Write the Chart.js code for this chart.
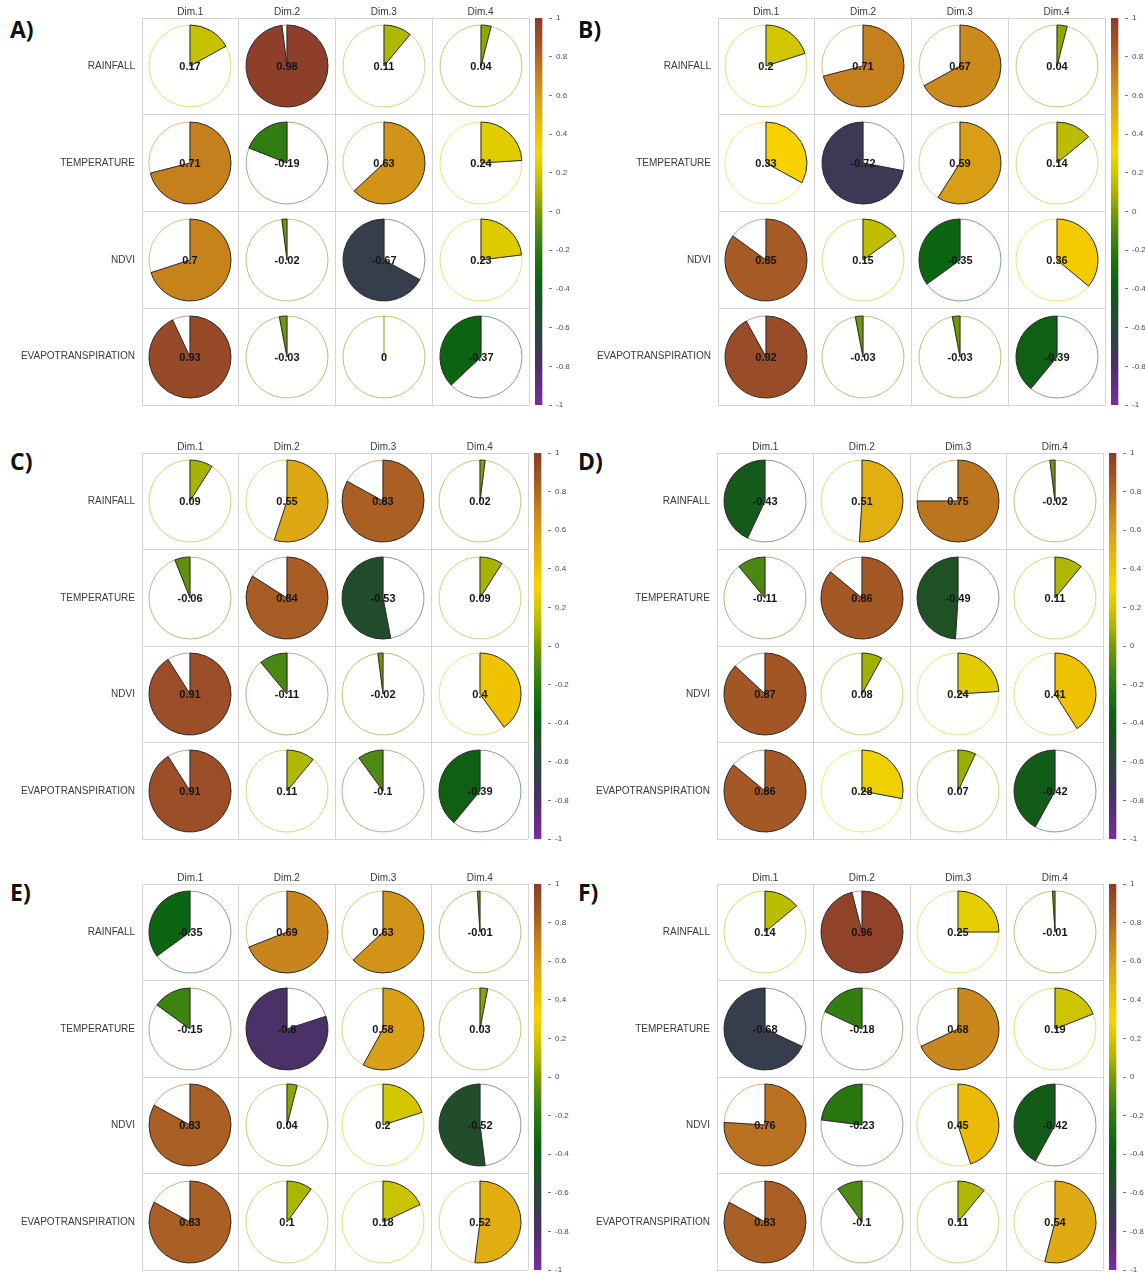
<!DOCTYPE html>
<html>
<head>
<meta charset="utf-8">
<title>Loadings of climate variables on the first four dimensions</title>
<script src="https://cdn.jsdelivr.net/npm/chart.js@4.4.1/dist/chart.umd.min.js"></script>
<style>
  html, body { margin: 0; padding: 0; background: #ffffff; }
  #page { position: relative; width: 1145px; height: 1272px; overflow: hidden; }
  #page canvas { position: absolute; }
  .panel-tag {
    position: absolute; margin: 0;
    font: bold 23px "Open Sans", "DejaVu Sans", sans-serif;
    line-height: 23px; color: #111111;
  }
</style>
</head>
<body>
<div id="page"></div>
<script>
// ---- data -------------------------------------------------------------
const dims = ['Dim.1', 'Dim.2', 'Dim.3', 'Dim.4'];
const variables = ['RAINFALL', 'TEMPERATURE', 'NDVI', 'EVAPOTRANSPIRATION'];
const panelTags = ['A)', 'B)', 'C)', 'D)', 'E)', 'F)'];

// rows follow `variables`, columns follow `dims`
const panelA = [
  [0.17, 0.98, 0.11, 0.04],
  [0.71, -0.19, 0.63, 0.24],
  [0.7, -0.02, -0.67, 0.23],
  [0.93, -0.03, 0, -0.37]
];
const panelB = [
  [0.2, 0.71, 0.67, 0.04],
  [0.33, -0.72, 0.59, 0.14],
  [0.85, 0.15, -0.35, 0.36],
  [0.92, -0.03, -0.03, -0.39]
];
const panelC = [
  [0.09, 0.55, 0.83, 0.02],
  [-0.06, 0.84, -0.53, 0.09],
  [0.91, -0.11, -0.02, 0.4],
  [0.91, 0.11, -0.1, -0.39]
];
const panelD = [
  [-0.43, 0.51, 0.75, -0.02],
  [-0.11, 0.86, -0.49, 0.11],
  [0.87, 0.08, 0.24, 0.41],
  [0.86, 0.28, 0.07, -0.42]
];
const panelE = [
  [-0.35, 0.69, 0.63, -0.01],
  [-0.15, -0.8, 0.58, 0.03],
  [0.83, 0.04, 0.2, -0.52],
  [0.83, 0.1, 0.18, 0.52]
];
const panelF = [
  [0.14, 0.96, 0.25, -0.01],
  [-0.68, -0.18, 0.68, 0.19],
  [0.76, -0.23, 0.45, -0.42],
  [0.83, -0.1, 0.11, 0.54]
];
const panelValues = [panelA, panelB, panelC, panelD, panelE, panelF];

// colour legend
const colorbarRange = [-1, 1];
const colorbarTicks = [-1, -0.8, -0.6, -0.4, -0.2, 0, 0.2, 0.4, 0.6, 0.8, 1];
const paletteStops = [
  [-1, '#7d2ba4'], [-0.8, '#4a3166'], [-0.66, '#333f48'], [-0.5, '#1f4f26'],
  [-0.36, '#0a6410'], [-0.2, '#2e7a0e'], [-0.1, '#4e8a14'], [0, '#7a9c00'],
  [0.1, '#abb600'], [0.2, '#d2c700'], [0.31, '#f9d500'], [0.42, '#edbf02'],
  [0.55, '#dea814'], [0.7, '#c7821c'], [0.85, '#a65a25'], [1, '#8a3b2b']
];

// ---- layout -----------------------------------------------------------
const LABEL_W = 142;   // room for the row names
const HEADER_H = 18;   // room for the column names
const PIE_R = 41;
const frames = [
  { left: 142, top: 18,  cell: 96.75 },
  { left: 718, top: 18,  cell: 96.75 },
  { left: 142, top: 453, cell: 96.5 },
  { left: 717, top: 453, cell: 96.5 },
  { left: 142, top: 884, cell: 96.5 },
  { left: 717, top: 884, cell: 96.5 }
];
const tagSpots = [[10, 18], [578, 18], [10, 450], [578, 450], [10, 881], [578, 881]];

const FONT = '"Liberation Sans", Arial, sans-serif';
Chart.defaults.font.family = FONT;
Chart.defaults.animation = false;

const page = document.getElementById('page');

function hexRgb(h) {
  return [1, 3, 5].map(i => parseInt(h.slice(i, i + 2), 16));
}
function mixColor(v, alpha) {
  let i = 0;
  while (i < paletteStops.length - 2 && v > paletteStops[i + 1][0]) i++;
  const [v0, c0] = paletteStops[i];
  const [v1, c1] = paletteStops[i + 1];
  const t = Math.min(1, Math.max(0, (v - v0) / (v1 - v0)));
  const a = hexRgb(c0), b = hexRgb(c1);
  const m = a.map((x, k) => Math.round(x + (b[k] - x) * t));
  return `rgba(${m[0]},${m[1]},${m[2]},${alpha})`;
}
const colorAt = v => mixColor(v, 1);

function addCanvas(left, top, w, h) {
  const c = document.createElement('canvas');
  c.width = w; c.height = h;
  c.style.left = left + 'px'; c.style.top = top + 'px';
  c.style.width = w + 'px'; c.style.height = h + 'px';
  page.appendChild(c);
  return c;
}

// keeps the plot area exactly on the requested box (no room reserved for label overhang)
function noOverhang(s) {
  s.paddingTop = 0; s.paddingBottom = 0; s.paddingLeft = 0; s.paddingRight = 0;
}

// prints the loading in the middle of its pie
const valueLabel = {
  id: 'valueLabel',
  afterDatasetsDraw(chart, args, opts) {
    const arc = chart.getDatasetMeta(0).data[0];
    const ctx = chart.ctx;
    ctx.save();
    ctx.font = 'bold 11px ' + FONT;
    ctx.fillStyle = '#151515';
    ctx.textAlign = 'center';
    ctx.textBaseline = 'middle';
    ctx.fillText(String(opts.text), arc.x, arc.y + 1);
    ctx.restore();
  }
};

const gridColor = '#d4d4d4';

panelValues.forEach((values, p) => {
  const f = frames[p];
  const gridW = f.cell * dims.length;
  const gridH = f.cell * variables.length;

  // panel letter
  const tag = document.createElement('div');
  tag.className = 'panel-tag';
  tag.textContent = panelTags[p];
  tag.style.left = tagSpots[p][0] + 'px';
  tag.style.top = tagSpots[p][1] + 'px';
  page.appendChild(tag);

  // cell grid with the dimension / variable names
  const gLeft = f.left - LABEL_W, gTop = f.top - HEADER_H;
  const gW = Math.round(LABEL_W + gridW + 1), gH = Math.round(HEADER_H + gridH + 1);
  const gridCanvas = addCanvas(gLeft, gTop, gW, gH);
  const grid = new Chart(gridCanvas, {
    type: 'scatter',
    data: { datasets: [] },
    options: {
      responsive: false,
      devicePixelRatio: 1,
      events: [],
      layout: { padding: { top: 0, left: 0, right: 1, bottom: 1 } },
      plugins: { legend: { display: false }, tooltip: { enabled: false } },
      scales: {
        x: {
          type: 'category', labels: dims, position: 'top', offset: true,
          grid: { offset: true, color: gridColor, drawTicks: false },
          border: { color: gridColor },
          ticks: { color: '#3a3a3a', font: { size: 10 }, padding: 0, maxRotation: 0 },
          afterFit(s) { s.height = HEADER_H; noOverhang(s); }
        },
        y: {
          type: 'category', labels: variables, offset: true,
          grid: { offset: true, color: gridColor, drawTicks: false },
          border: { color: gridColor },
          ticks: { color: '#3a3a3a', font: { size: 10, lineHeight: 1.5 }, padding: 7 },
          afterFit(s) { s.width = LABEL_W; noOverhang(s); }
        }
      }
    }
  });

  // one pie per cell, centred on the category positions of the grid
  const size = PIE_R * 2 + 8;
  variables.forEach((name, r) => {
    dims.forEach((d, c) => {
      const v = values[r][c];
      const cx = gLeft + grid.scales.x.getPixelForValue(c);
      const cy = gTop + grid.scales.y.getPixelForValue(r);
      const pc = addCanvas(Math.round(cx - size / 2), Math.round(cy - size / 2), size, size);
      new Chart(pc, {
        type: 'pie',
        data: {
          labels: ['rest', name + ' ' + d],
          datasets: [{
            data: [1 - Math.abs(v), Math.abs(v)],
            backgroundColor: ['#ffffff', colorAt(v)],
            borderColor: [mixColor(v, 0.55), '#2a2a2a'],
            borderWidth: 1
          }]
        },
        options: {
          responsive: false,
          devicePixelRatio: 1,
          events: [],
          radius: PIE_R,
          // positive loadings sweep clockwise from 12 o'clock, negative ones anticlockwise
          rotation: v > 0 ? v * 360 : 0,
          layout: { padding: 0 },
          plugins: {
            legend: { display: false },
            tooltip: { enabled: false },
            valueLabel: { text: v }
          }
        },
        plugins: [valueLabel]
      });
    });
  });

  // colour legend
  const barLeft = Math.round(f.left + gridW + 6);
  const cbCanvas = addCanvas(barLeft, Math.round(f.top) - 6, 42, Math.round(gridH) + 12);
  new Chart(cbCanvas, {
    type: 'bar',
    data: {
      labels: [''],
      datasets: [{
        data: [colorbarRange],
        borderWidth: 0,
        barPercentage: 1,
        categoryPercentage: 1,
        backgroundColor(ctx) {
          const area = ctx.chart.chartArea;
          if (!area) return '#888888';
          const g = ctx.chart.ctx.createLinearGradient(0, area.bottom, 0, area.top);
          paletteStops.forEach(([v, c]) => {
            g.addColorStop((v - colorbarRange[0]) / (colorbarRange[1] - colorbarRange[0]), c);
          });
          return g;
        }
      }]
    },
    options: {
      responsive: false,
      devicePixelRatio: 1,
      events: [],
      layout: { padding: { top: 6, bottom: 6, left: 0, right: 0 } },
      plugins: { legend: { display: false }, tooltip: { enabled: false } },
      scales: {
        x: { display: false, offset: false },
        y: {
          position: 'right',
          min: colorbarRange[0], max: colorbarRange[1],
          afterBuildTicks(s) { s.ticks = colorbarTicks.map(v => ({ value: v })); },
          afterFit(s) { s.width = 28; noOverhang(s); },
          ticks: { color: '#4a4a4a', font: { size: 8 }, padding: 4, callback: v => String(v) },
          grid: { drawOnChartArea: false, drawTicks: true, tickLength: 3, color: '#777777' },
          border: { display: false }
        }
      }
    }
  });
});
</script>
</body>
</html>
